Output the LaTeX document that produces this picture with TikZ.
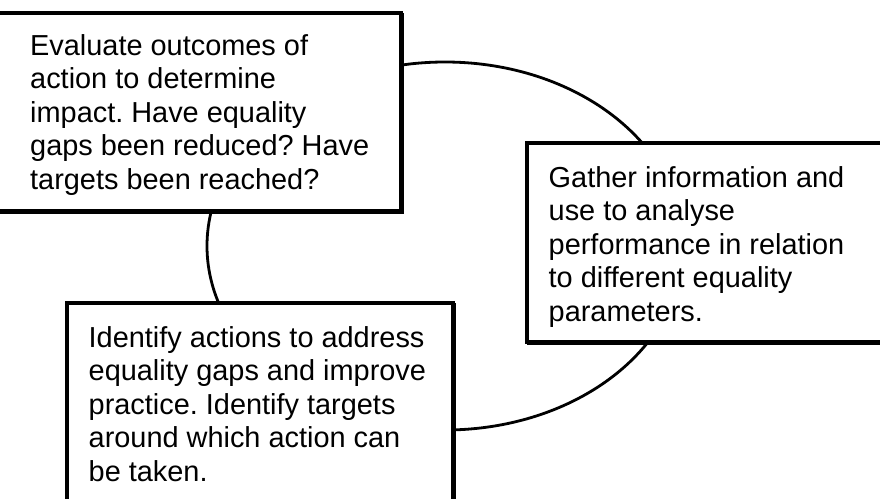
\documentclass[tikz,border=0pt]{standalone}
\usepackage{fontspec}
\setmainfont{Liberation Sans}
\usetikzlibrary{shadows}
\frenchspacing
\tikzset{
  stepbox/.style={draw=black, fill=white, line width=3.2pt, rectangle, inner sep=0pt,
    general shadow={shadow xshift=1.3pt, shadow yshift=-1.3pt, draw=black, fill=black, line width=3.2pt}},
  steptext/.style={anchor=base west, inner sep=0pt},
  cycleline/.style={draw=black, line width=2.8pt}
}
\newcommand{\steplines}[1]{\parbox[t]{12cm}{\fontsize{28.9}{33.5}\selectfont\frenchspacing\raggedright #1}}
\begin{document}
\begin{tikzpicture}[x=1pt,y=-1pt]
\useasboundingbox (0,0) rectangle (880,498);
\clip (0,0) rectangle (880,498);
\fill[white] (0,0) rectangle (880,498);
\draw[cycleline] (445,246) ellipse [x radius=238pt, y radius=184pt];
\node[stepbox, minimum width=411pt, minimum height=198pt] (b1) at (195.5,112) {};
\node[stepbox, minimum width=373pt, minimum height=199pt] (b2) at (713.5,242.5) {};
\node[stepbox, minimum width=386pt, minimum height=217pt] (b3) at (260,411.5) {};
\node[steptext] (t1) at (30,55) {\steplines{Evaluate outcomes of\\action to determine\\impact. Have equality\\gaps been reduced? Have\\targets been reached?}};
\node[steptext] (t2) at (548.5,187) {\steplines{Gather information and\\use to analyse\\performance in relation\\to different equality\\parameters.}};
\node[steptext] (t3) at (88.5,347) {\steplines{Identify actions to address\\equality gaps and improve\\practice. Identify targets\\around which action can\\be taken.}};
\end{tikzpicture}
\end{document}
